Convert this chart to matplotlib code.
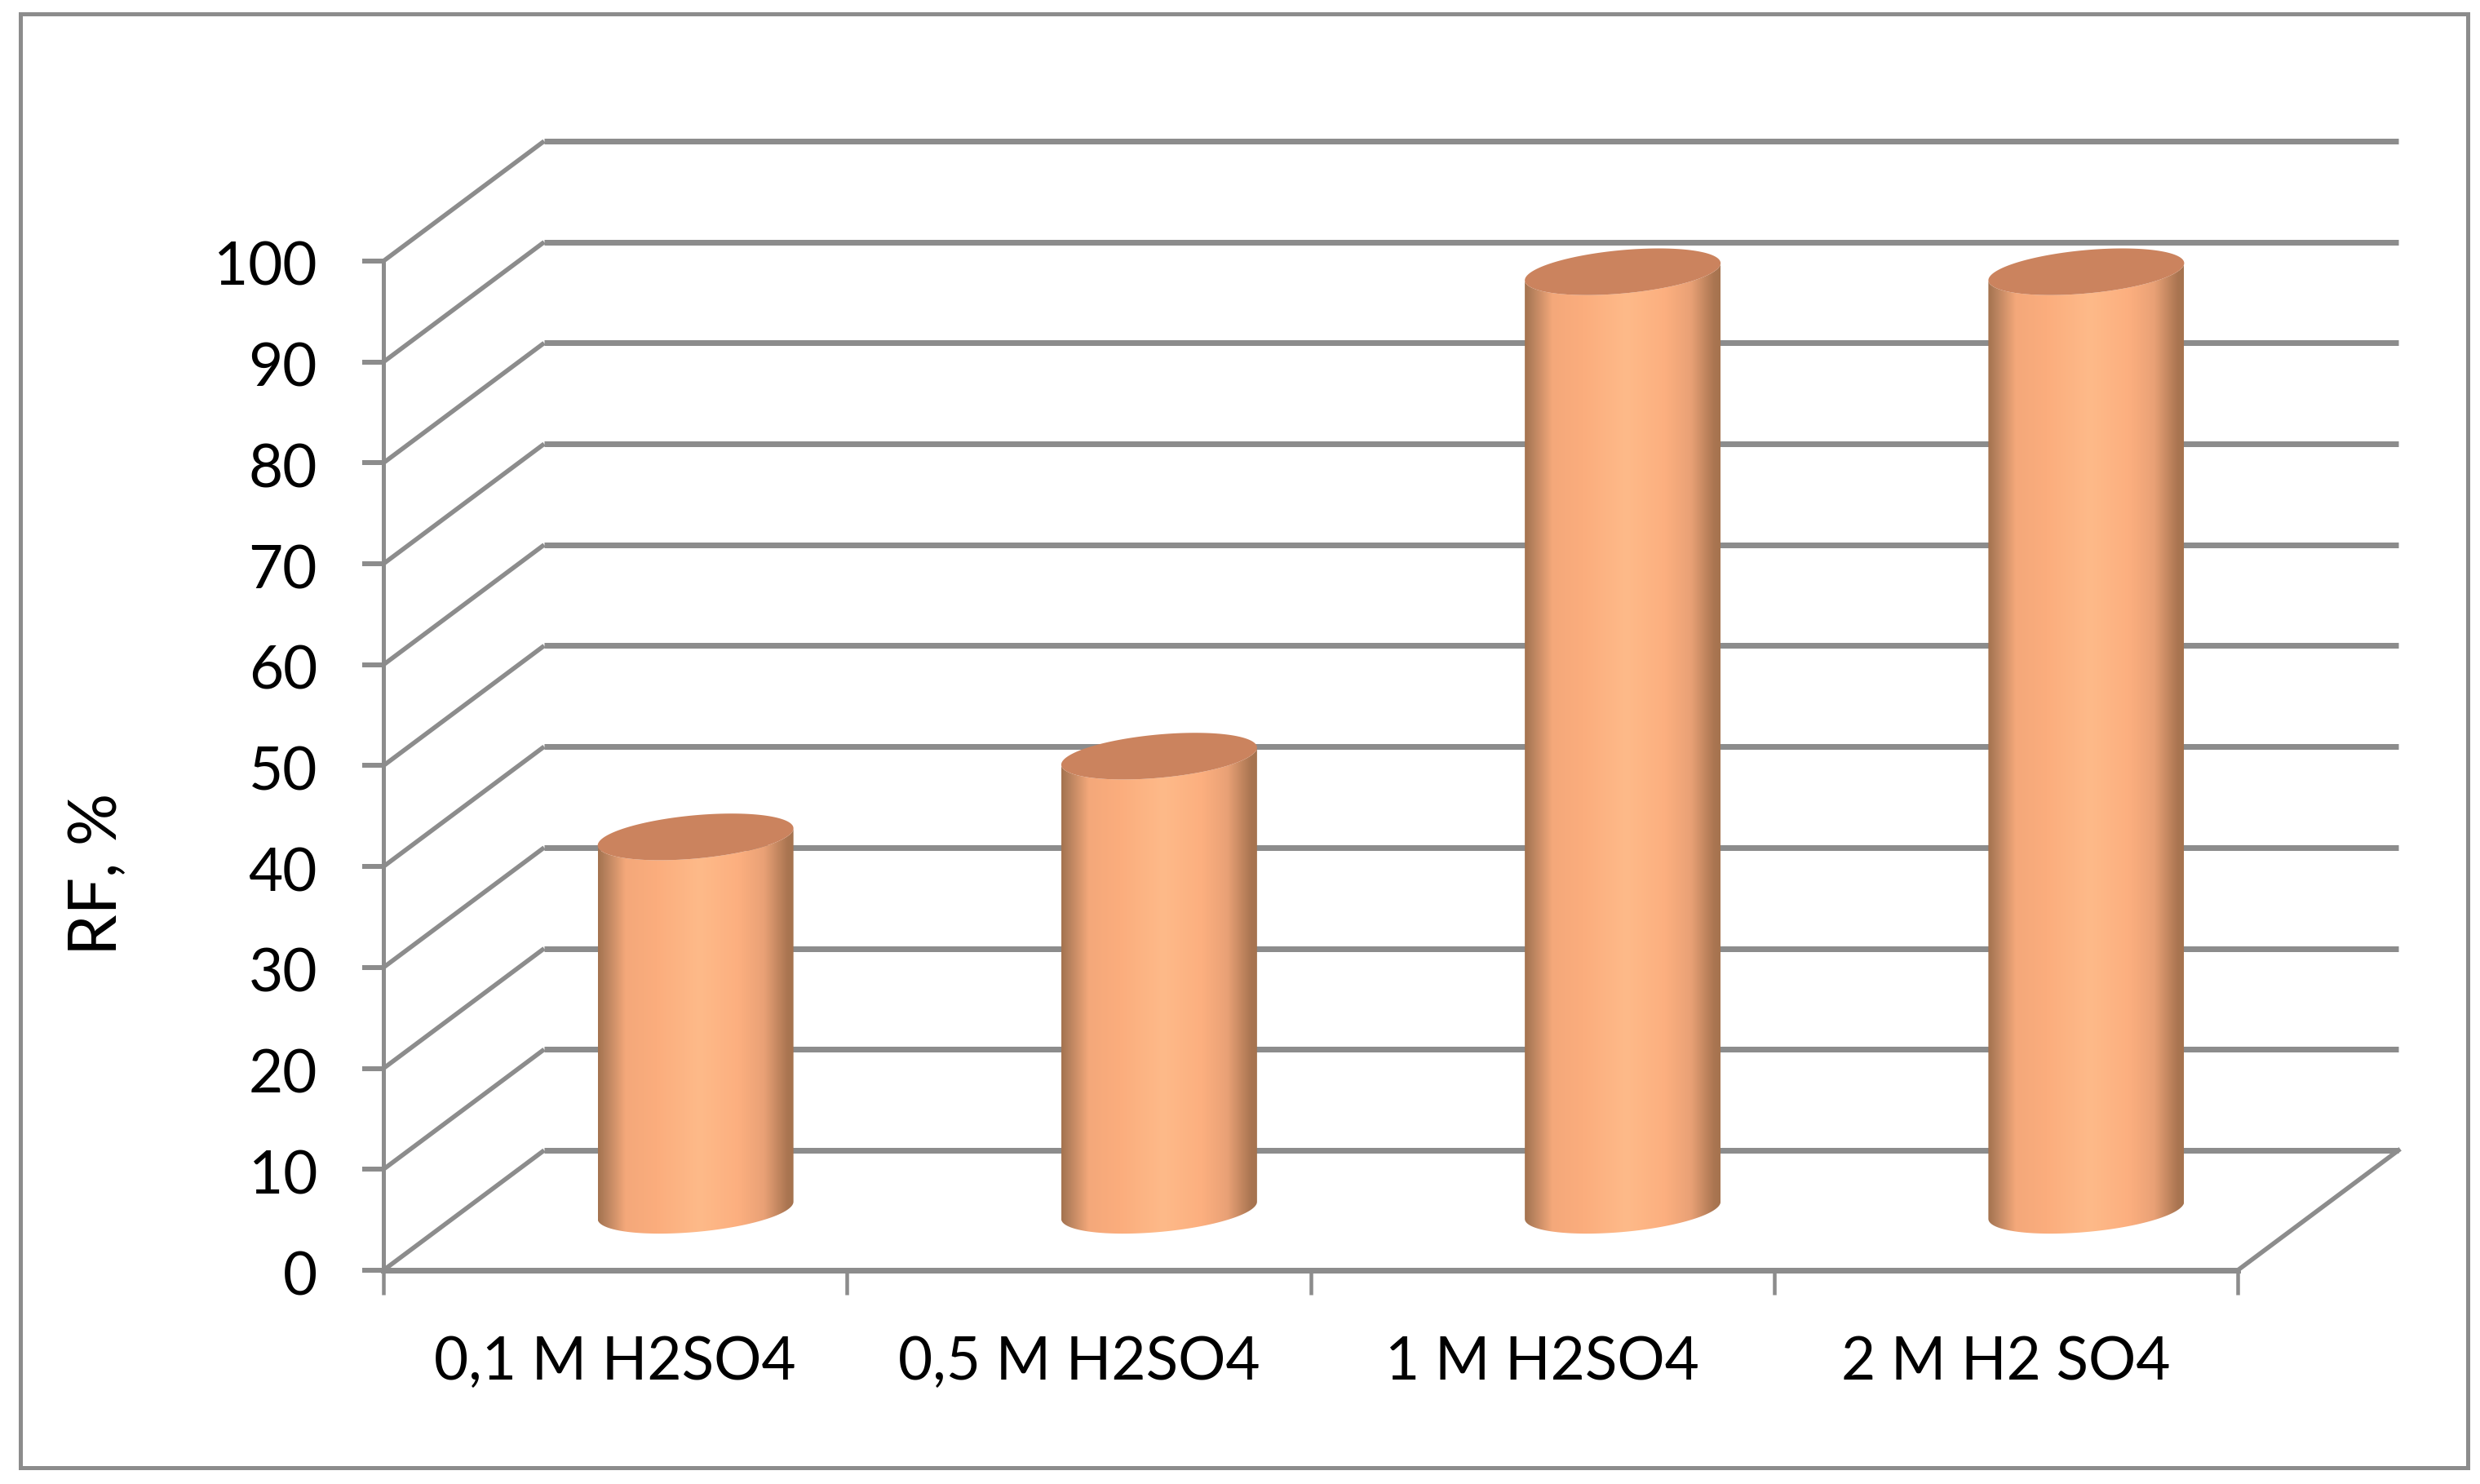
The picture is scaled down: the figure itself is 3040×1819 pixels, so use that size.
#!/usr/bin/env python3
# -*- coding: utf-8 -*-

import numpy as np
import matplotlib
matplotlib.use('Agg')
import matplotlib.pyplot as plt
from matplotlib.colors import LinearSegmentedColormap
from matplotlib.patches import Polygon, Rectangle
from matplotlib.transforms import ScaledTranslation

categories = ['0,1 M H2SO4', '0,5 M H2SO4', '1 M H2SO4', '2 M H2 SO4']
rf_values = [37, 45, 93, 93]
y_ticks = [0, 10, 20, 30, 40, 50, 60, 70, 80, 90, 100]

W, H = 3040, 1819
GRAY = '#8c8c8c'
plt.rcParams['font.family'] = ['Lato', 'DejaVu Sans']


def px(v):
    # pixels to points at dpi 100
    return v * 72 / 100


fig = plt.figure(figsize=(W / 100, H / 100), dpi=100)
fig.add_artist(Rectangle((24.5 / W, 1 - 1799 / H), (3024.5 - 24.5) / W, (1799 - 17.5) / H,
                         transform=fig.transFigure, fill=False, edgecolor=GRAY, linewidth=px(5)))

# front plane of the 3d box
left, right, top, bottom = 470, 2743, 320, 1557
ax = fig.add_axes([left / W, 1 - bottom / H, (right - left) / W, (bottom - top) / H])
ax.patch.set_alpha(0)
n = len(categories)
ax.set_xlim(0, n)
ax.set_ylim(0, 100)

# depth of the box in data units
depth_x = 197 / ((right - left) / n)
depth_y = 147 / ((bottom - top) / 100)

for v in y_ticks:
    ax.plot([0, depth_x], [v, v + depth_y], color=GRAY, lw=px(5.5), clip_on=False, zorder=1,
            solid_capstyle='butt')
    ax.plot([depth_x, n + depth_x], [v + depth_y, v + depth_y], color=GRAY, lw=px(7), clip_on=False,
            zorder=1, solid_capstyle='butt')
ax.plot([n, n + depth_x], [0, depth_y], color=GRAY, lw=px(5.5), clip_on=False, zorder=1)

# cylinders
shade = LinearSegmentedColormap.from_list('cyl', [
    (0.0, '#a5734f'), (0.04, '#b8825e'), (0.14, '#f4a87a'), (0.3, '#fbad7d'), (0.52, '#feba89'),
    (0.72, '#fcaf7f'), (0.85, '#e9a176'), (0.97, '#aa7551'), (1.0, '#a5734f')])
half_w = 120 / ((right - left) / n)
rad_y = 2.15
tilt = 0.85
t = np.linspace(0, 2 * np.pi, 181)
grad = np.linspace(0, 1, 256).reshape(1, -1)

for i, val in enumerate(rf_values):
    cx = i + 0.5 + depth_x / 2
    base = depth_y / 2
    top_y = base + val
    # lower half of the base ellipse, then up and along the top ellipse
    low = np.linspace(np.pi, 2 * np.pi, 91)
    xs = cx + half_w * np.cos(low)
    ys = base + rad_y * np.sin(low) + tilt * np.cos(low)
    xt = cx + half_w * np.cos(low[::-1])
    yt = top_y + rad_y * np.sin(low[::-1]) + tilt * np.cos(low[::-1])
    body = Polygon(np.column_stack([np.r_[xs, xt], np.r_[ys, yt]]), closed=True,
                   transform=ax.transData, facecolor='none', edgecolor='none')
    ax.add_patch(body)
    im = ax.imshow(grad, cmap=shade, aspect='auto', zorder=3, clip_on=True,
                   extent=[cx - half_w, cx + half_w, base - 5, top_y + 5])
    im.set_clip_path(body)
    ax.fill(cx + half_w * np.cos(t), top_y + rad_y * np.sin(t) + tilt * np.cos(t),
            color='#cb835e', lw=0, zorder=4, clip_on=False)

ax.set_xlim(0, n)
ax.set_ylim(0, 100)

for s in ['top', 'right']:
    ax.spines[s].set_visible(False)
ax.spines['left'].set_color(GRAY)
ax.spines['left'].set_linewidth(px(5))
ax.spines['bottom'].set_color(GRAY)
ax.spines['bottom'].set_linewidth(px(7))
ax.spines['left'].set_zorder(2)
ax.spines['bottom'].set_zorder(2)

ax.set_yticks(y_ticks)
ax.tick_params(axis='y', length=px(26), width=px(6), color=GRAY, pad=px(55), labelsize=52.5)
# digits sit a little below the tick in the reference
shift = ScaledTranslation(0, -3 / 100, fig.dpi_scale_trans)
for lab in ax.get_yticklabels():
    lab.set_transform(lab.get_transform() + shift)

ax.set_xticks(np.arange(n + 1))
ax.set_xticklabels([])
ax.tick_params(axis='x', which='major', length=px(30), width=px(4.5), color=GRAY)
ax.set_xticks(np.arange(n) + 0.5, minor=True)
ax.set_xticklabels(categories, minor=True)
ax.tick_params(axis='x', which='minor', length=0, pad=px(80), labelsize=52.5)

fig.text(120 / W, 1 - 1071 / H, 'RF, %', rotation=90, fontsize=58, ha='center', va='center')

plt.savefig('out.png', dpi=100)
